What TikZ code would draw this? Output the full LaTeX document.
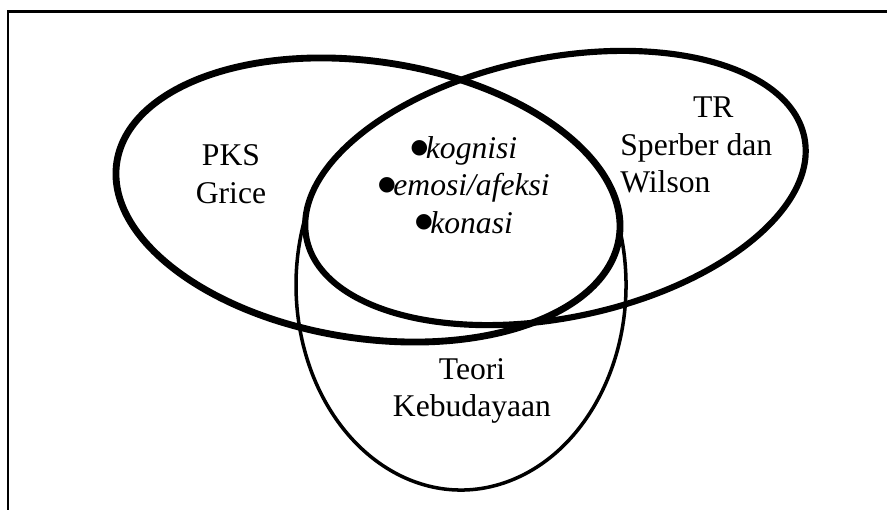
\documentclass[tikz,border=0pt]{standalone}
\usepackage{fontspec}
\setmainfont{Liberation Serif}
\newfontfamily\symfont{DejaVu Sans}
\newcommand{\titik}{{\symfont\fontsize{11.5}{11.5}\selectfont\kern-0.1em\raisebox{0.26em}{●}\kern-0.12em}}
\begin{document}
\begin{tikzpicture}[x=0.02cm,y=-0.02cm,
  frame/.style={line width=1.2pt},
  setA/.style={line width=3.9pt},
  setB/.style={line width=3.5pt},
  setC/.style={line width=2pt},
  lbl/.style={inner sep=0pt,align=center,font=\fontsize{18}{21.3}\selectfont}
]
  \useasboundingbox (0,0) rectangle (887,510);
  \draw[frame] (8,510) -- (8,11.5) -- (887,11.5);
  % the three sets
  \coordinate (cA) at (368,200);
  \coordinate (cB) at (555.5,188);
  \coordinate (cC) at (461,285);
  \draw[setA,rotate around={-8.5:(cA)}] (cA) ellipse [x radius=254,y radius=138.5];
  \draw[setB,rotate around={11.5:(cB)}] (cB) ellipse [x radius=254,y radius=130];
  % lower part only, the top runs into A and B
  \draw[setC] (cC) ++(-17:165 and 205) arc [start angle=-17,end angle=201,x radius=165,y radius=205];
  % labels
  \node[lbl] (pks) at (231,174) {PKS\\Grice};
  \node[lbl,align=left,anchor=west] (tr) at (620,145) {\hspace*{2.3em}TR\\Sperber dan\\Wilson};
  \node[lbl] (ranah) at (465,185) {\titik\textit{kognisi}\\\titik\textit{emosi/afeksi}\\\titik\textit{konasi}};
  \node[lbl] (teori) at (472,391) {Teori\\Kebudayaan};
\end{tikzpicture}
\end{document}
